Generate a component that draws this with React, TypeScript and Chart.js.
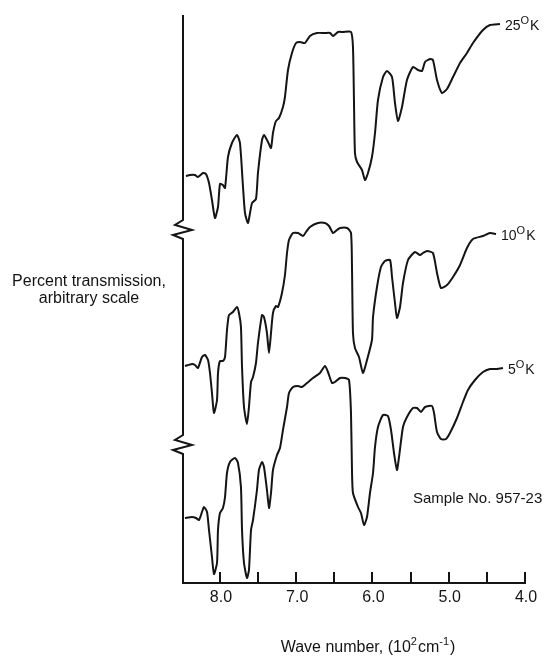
import React, { useEffect, useRef } from "react";
import { Chart, registerables } from "chart.js";

Chart.register(...registerables);

// Wave number axis, in units of 10^2 cm^-1 (plotted high to low)
const waveMin = 4.0;
const waveMax = 8.485;
const labeledTicks = [8.0, 7.0, 6.0, 5.0, 4.0];
const minorTicks = [7.5, 6.5, 5.5, 4.5];

// Transmission on an arbitrary scale; each spectrum is offset vertically
const transMin = 0;
const transMax = 568;
const axisBreaks = [354, 139];

// 25 K spectrum
const wave25 = [
  8.446, 8.393, 8.328, 8.289, 8.223, 8.184, 8.144, 8.105, 8.066, 8.026, 8.0, 7.961, 7.934, 7.895,
  7.843, 7.777, 7.738, 7.698, 7.672, 7.633, 7.58, 7.528, 7.502, 7.449, 7.423, 7.37, 7.331, 7.305,
  7.266, 7.226, 7.174, 7.148, 7.108, 7.056, 7.003, 6.951, 6.885, 6.82, 6.728, 6.623, 6.557, 6.518,
  6.452, 6.387, 6.282, 6.256, 6.243, 6.23, 6.203, 6.138, 6.098, 6.059, 6.007, 5.967, 5.928, 5.862,
  5.81, 5.744, 5.705, 5.666, 5.613, 5.548, 5.469, 5.403, 5.351, 5.311, 5.246, 5.207, 5.154, 5.089,
  5.023, 4.944, 4.852, 4.761, 4.682, 4.551, 4.459, 4.328,
];
const trans25 = [
  407, 408, 408, 406, 410, 409, 400, 383, 365, 376, 399, 398, 395, 426,
  440, 448, 440, 396, 370, 360, 380, 384, 410, 443, 448, 441, 435, 450,
  462, 465, 476, 486, 513, 530, 540, 541, 540, 547, 550, 550, 550, 547,
  551, 551, 551, 536, 483, 430, 421, 413, 403, 410, 426, 450, 483, 506,
  512, 506, 480, 462, 476, 503, 516, 513, 512, 521, 524, 523, 503, 490,
  494, 506, 520, 530, 540, 553, 558, 559,
];

// 10 K spectrum
const wave10 = [
  8.459, 8.367, 8.328, 8.289, 8.236, 8.197, 8.157, 8.131, 8.105, 8.079, 8.039, 8.026, 8.0, 7.961,
  7.934, 7.908, 7.882, 7.83, 7.777, 7.751, 7.725, 7.711, 7.685, 7.646, 7.62, 7.593, 7.567, 7.528,
  7.502, 7.449, 7.423, 7.384, 7.357, 7.331, 7.305, 7.266, 7.239, 7.187, 7.148, 7.121, 7.095, 7.043,
  6.977, 6.911, 6.872, 6.82, 6.715, 6.623, 6.57, 6.518, 6.466, 6.426, 6.334, 6.282, 6.269, 6.256,
  6.23, 6.177, 6.125, 6.072, 6.007, 5.993, 5.941, 5.889, 5.836, 5.77, 5.744, 5.705, 5.679, 5.639,
  5.6, 5.534, 5.443, 5.377, 5.338, 5.285, 5.207, 5.154, 5.102, 5.023, 4.944, 4.852, 4.761, 4.682,
  4.551, 4.459, 4.38,
];
const trans10 = [
  217, 219, 218, 215, 226, 228, 223, 210, 190, 170, 183, 210, 222, 222,
  226, 253, 268, 271, 276, 270, 256, 216, 176, 159, 176, 201, 206, 220,
  240, 268, 266, 250, 230, 250, 270, 277, 276, 290, 308, 330, 343, 350,
  350, 347, 351, 356, 360, 360, 357, 350, 353, 355, 355, 350, 316, 250,
  235, 226, 210, 223, 243, 266, 296, 316, 322, 323, 306, 280, 265, 276,
  300, 323, 331, 328, 330, 332, 330, 310, 295, 298, 306, 318, 335, 344,
  347, 350, 349,
];

// 5 K spectrum
const wave5 = [
  8.459, 8.367, 8.315, 8.275, 8.236, 8.21, 8.17, 8.144, 8.105, 8.079, 8.039, 8.026, 8.0, 7.961,
  7.934, 7.908, 7.869, 7.803, 7.764, 7.725, 7.711, 7.685, 7.646, 7.62, 7.593, 7.567, 7.515, 7.489,
  7.449, 7.423, 7.384, 7.357, 7.331, 7.305, 7.252, 7.213, 7.174, 7.121, 7.095, 7.043, 6.977, 6.925,
  6.859, 6.78, 6.689, 6.623, 6.584, 6.531, 6.492, 6.426, 6.361, 6.308, 6.282, 6.269, 6.256, 6.19,
  6.151, 6.111, 6.072, 6.033, 5.993, 5.967, 5.928, 5.862, 5.797, 5.757, 5.718, 5.679, 5.652, 5.6,
  5.548, 5.469, 5.416, 5.364, 5.311, 5.22, 5.193, 5.154, 5.102, 5.036, 4.984, 4.892, 4.813, 4.748,
  4.656, 4.551, 4.459, 4.367, 4.289,
];
const trans5 = [
  65, 66, 65, 63, 71, 76, 71, 53, 26, 9, 20, 53, 70, 75,
  86, 110, 121, 125, 120, 96, 53, 20, 5, 13, 53, 63, 93, 113,
  121, 116, 93, 75, 90, 113, 128, 135, 153, 176, 190, 196, 197, 196,
  200, 205, 210, 217, 211, 200, 201, 205, 205, 203, 170, 113, 90, 76,
  70, 58, 66, 90, 110, 136, 156, 168, 167, 153, 130, 113, 126, 156,
  166, 175, 175, 171, 176, 177, 170, 151, 144, 144, 150, 165, 181, 193,
  203, 211, 214, 214, 215,
];

const temperatures = ["25", "10", "5"];
const spectra = [
  { wave: wave25, trans: trans25 },
  { wave: wave10, trans: trans10 },
  { wave: wave5, trans: trans5 },
];

const sampleLabel = "Sample No. 957-23";
const yTitleLines = ["Percent transmission,", "arbitrary scale"];

const FONT = "'Liberation Sans', Arial, sans-serif";
const INK = "#141414";

type Seg = { text: string; sup?: boolean };

function drawRich(
  ctx: CanvasRenderingContext2D,
  segs: Seg[],
  x: number,
  y: number,
  size: number,
  align: "left" | "center",
  supRatio = 0.66
) {
  const supSize = Math.round(size * supRatio);
  const widths = segs.map((s) => {
    ctx.font = `${s.sup ? supSize : size}px ${FONT}`;
    return ctx.measureText(s.text).width;
  });
  const total = widths.reduce((a, b) => a + b, 0);
  let cx = align === "center" ? x - total / 2 : x;
  ctx.textAlign = "left";
  ctx.textBaseline = "alphabetic";
  segs.forEach((s, i) => {
    ctx.font = `${s.sup ? supSize : size}px ${FONT}`;
    ctx.fillText(s.text, cx, s.sup ? y - size * 0.45 : y);
    cx += widths[i] + (s.sup ? 1 : 0);
  });
}

const decorations = {
  id: "spectrumDecorations",
  afterDraw(chart: any) {
    const { ctx, chartArea, scales } = chart;
    const xs = scales.x;
    const ys = scales.y;
    const left = chartArea.left;
    const bottom = chartArea.bottom;
    const top = chartArea.top;
    ctx.save();
    ctx.strokeStyle = INK;
    ctx.fillStyle = INK;
    ctx.lineWidth = 2;
    ctx.lineJoin = "miter";

    // vertical axis with zigzag breaks
    const breaksPx = axisBreaks.map((v) => ys.getPixelForValue(v)).sort((a, b) => a - b);
    ctx.beginPath();
    ctx.moveTo(left, top);
    breaksPx.forEach((c) => {
      ctx.lineTo(left, c - 9);
      ctx.lineTo(left - 8, c - 4);
      ctx.lineTo(left + 9, c + 1);
      ctx.lineTo(left - 10, c + 6);
      ctx.lineTo(left, c + 10);
    });
    ctx.lineTo(left, bottom);
    ctx.lineTo(chartArea.right + 1, bottom);
    ctx.stroke();

    // inward tick marks
    [...labeledTicks, ...minorTicks].forEach((t) => {
      const px = Math.round(xs.getPixelForValue(t));
      ctx.beginPath();
      ctx.moveTo(px, bottom);
      ctx.lineTo(px, bottom - 11);
      ctx.stroke();
    });

    // tick labels
    ctx.font = `16px ${FONT}`;
    ctx.textAlign = "center";
    ctx.textBaseline = "alphabetic";
    labeledTicks.forEach((t) => {
      ctx.fillText(t.toFixed(1), xs.getPixelForValue(t) + 1, bottom + 19);
    });

    // axis titles
    drawRich(
      ctx,
      [
        { text: "Wave number, (10" },
        { text: "2", sup: true },
        { text: "cm" },
        { text: "-1", sup: true },
        { text: ")" },
      ],
      367,
      bottom + 69,
      16,
      "center"
    );
    ctx.font = `16px ${FONT}`;
    ctx.textAlign = "center";
    yTitleLines.forEach((line, i) => {
      ctx.fillText(line, 89, 286 + i * 16.5);
    });

    // temperature labels at the end of each trace
    spectra.forEach((s, i) => {
      const n = s.wave.length - 1;
      const px = xs.getPixelForValue(s.wave[n]);
      const py = ys.getPixelForValue(s.trans[n]);
      drawRich(
        ctx,
        [{ text: temperatures[i] }, { text: "O", sup: true }, { text: "K" }],
        px + 5,
        py + 6,
        14,
        "left",
        0.75
      );
    });

    ctx.font = `15px ${FONT}`;
    ctx.textAlign = "left";
    ctx.fillText(sampleLabel, 413, 503);
    ctx.restore();
  },
};

export default function App() {
  const canvasRef = useRef<HTMLCanvasElement | null>(null);

  useEffect(() => {
    const canvas = canvasRef.current;
    if (!canvas) return;
    const chart = new Chart(canvas, {
      type: "line",
      data: {
        datasets: spectra.map((s, i) => ({
          label: `${temperatures[i]} K`,
          data: s.wave.map((w, j) => ({ x: w, y: s.trans[j] })),
          borderColor: INK,
          borderWidth: 2,
          pointRadius: 0,
          tension: 0.2,
          fill: false,
        })),
      },
      options: {
        responsive: false,
        animation: false,
        devicePixelRatio: 1,
        layout: { padding: { left: 183, right: 20, top: 15, bottom: 73 } },
        scales: {
          x: { type: "linear", min: waveMin, max: waveMax, reverse: true, display: false },
          y: { type: "linear", min: transMin, max: transMax, display: false },
        },
        plugins: { legend: { display: false }, tooltip: { enabled: false } },
        events: [],
      },
      plugins: [decorations],
    });
    return () => chart.destroy();
  }, []);

  return (
    <div style={{ position: "absolute", left: 0, top: 0, width: 545, height: 656, background: "#fff" }}>
      <canvas ref={canvasRef} width={545} height={656} />
    </div>
  );
}
